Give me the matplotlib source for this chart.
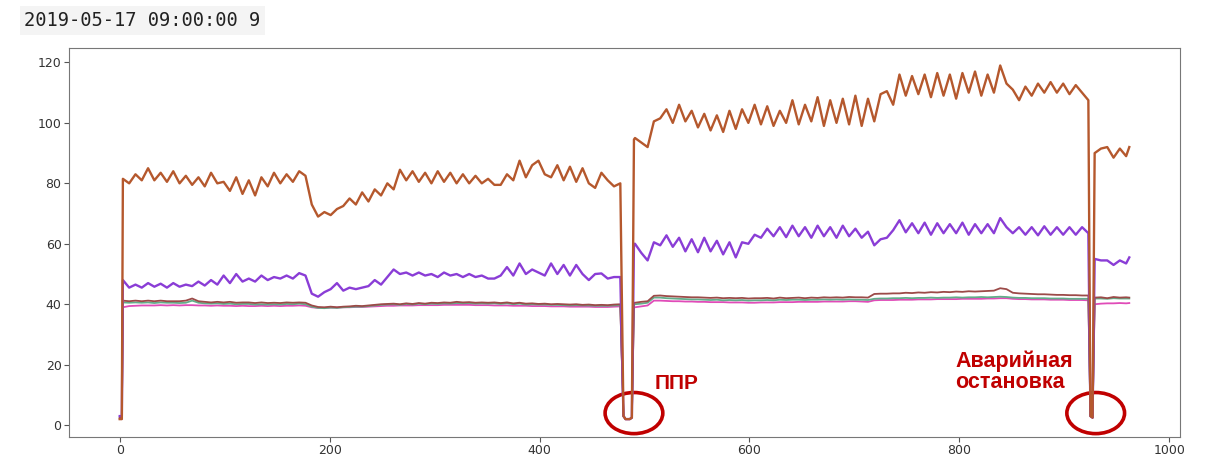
import numpy as np
import matplotlib
matplotlib.use('Agg')
import matplotlib.pyplot as plt
from matplotlib.patches import Ellipse

# sample index: normal run, first stop (ППР), run, emergency stop, restart
t = np.concatenate([[0, 2], np.arange(3, 478, 6), np.arange(480, 491, 2),
                    np.arange(491, 924, 6), [925, 927], np.arange(929, 960, 6), [962]])

top_line = [2, 2,
            81.5, 80, 83, 81, 85, 81, 83.5, 80.5, 84, 80,
            82.5, 79.5, 82, 79, 83.5, 80, 80.5, 77.5, 82, 76.5,
            81, 76, 82, 79, 83.5, 80, 83, 80.5, 84, 82.5,
            73, 69, 70.5, 69.5, 71.5, 72.5, 75, 73, 77, 74,
            78, 76, 80, 78, 84.5, 81, 84, 80.5, 83.5, 80,
            84, 80.5, 83.5, 80, 83, 80, 82.5, 80, 81.5, 79.5,
            79.5, 83, 81, 87.5, 82, 86, 87.5, 83, 82, 86,
            81, 85.5, 80.5, 85, 80, 78.5, 83.5, 81, 79, 80,
            3, 2, 2, 2, 2.5, 94.5,
            95, 93.5, 92, 100.5, 101.5, 104.5, 100, 106, 100.5, 104,
            98.5, 103, 97.5, 102.5, 97, 104, 98, 104.5, 100, 106,
            99.5, 105.5, 99, 104, 100, 107.5, 99.5, 106, 100.5, 108.5,
            99, 107.5, 100, 108, 99.5, 109, 99, 108, 100.5, 109.5,
            110.5, 106, 116, 109, 115.5, 109.5, 116, 108.5, 116.5, 109,
            116, 108, 116.5, 110, 117, 109, 116, 110, 119, 113,
            111, 107.5, 112, 109, 113, 110, 113.5, 110, 113, 109.5,
            112.5, 110, 107.5,
            3, 2.5,
            90, 91.5, 92, 88.5, 91.5, 89, 92]

purple_line = [3, 3,
               48, 45.5, 46.5, 45.5, 47, 45.8, 46.8, 45.5, 47, 45.8,
               46.5, 46, 47.5, 46.2, 48, 46.5, 49.5, 47, 50, 47.5,
               48.5, 47.5, 49.5, 48, 49, 48.5, 49.5, 48.5, 50.3, 49.5,
               43.5, 42.5, 44, 45, 47, 44.5, 45.5, 45, 45.5, 46,
               48, 46.5, 49, 51.5, 50, 50.5, 49.5, 50.5, 49.5, 50,
               49, 50.5, 49.5, 50, 49, 50, 49, 49.5, 48.5, 48.5,
               49.5, 52.3, 49.5, 53.5, 50, 51.5, 50.5, 49.5, 53.5, 50,
               53, 49.5, 53, 50, 48, 50, 50.2, 48.5, 49, 49,
               3, 2, 2, 2, 2.5, 60,
               60, 57, 54.5, 60.5, 59.5, 62.8, 59, 62, 57.5, 61.5,
               57.2, 62, 57.5, 61, 56.5, 60.5, 55.5, 60.5, 60, 63,
               62, 65, 62.5, 65.5, 62.2, 66, 62.5, 65.5, 62, 66,
               62.5, 65.5, 62, 66, 62.5, 65, 62, 64, 59.5, 61.5,
               62, 64.5, 67.8, 63.8, 66.8, 63.5, 67, 63, 66.8, 63.5,
               66.5, 63.5, 67, 63, 66.5, 63.5, 66.5, 63.5, 68.5, 65.5,
               63.5, 65.5, 63, 65.5, 62.8, 65.8, 63, 65.5, 63, 65.5,
               63, 65.5, 63.5,
               3, 2.5,
               55, 54.5, 54.5, 53, 54.5, 53.5, 55.5]

brown_line = [2.5, 2.5,
              41.2, 41, 41.2, 41, 41.2, 41, 41.2, 41, 41, 41,
              41.2, 41.9, 41, 40.8, 40.6, 40.8, 40.6, 40.8, 40.5, 40.6,
              40.6, 40.4, 40.6, 40.4, 40.5, 40.4, 40.6, 40.5, 40.6, 40.5,
              39.6, 39.1, 39, 39.2, 39, 39.2, 39.3, 39.5, 39.4, 39.6,
              39.8, 40, 40.1, 40.2, 40, 40.3, 40.1, 40.4, 40.2, 40.5,
              40.4, 40.6, 40.5, 40.8, 40.6, 40.7, 40.5, 40.6, 40.5, 40.6,
              40.4, 40.6, 40.3, 40.5, 40.2, 40.3, 40.1, 40.2, 40, 40.1,
              40, 39.9, 40, 39.8, 39.9, 39.7, 39.8, 39.7, 39.9, 40,
              3, 2, 2, 2, 2.5, 40.5,
              40.5, 40.8, 41, 42.8, 42.9, 42.7, 42.6, 42.5, 42.4, 42.3,
              42.3, 42.2, 42.1, 42.2, 42, 42.1, 42, 42.1, 41.9, 42,
              42, 42.1, 41.9, 42.2, 42, 42.1, 42.2, 42, 42.2, 42.1,
              42.3, 42.2, 42.3, 42.2, 42.4, 42.3, 42.3, 42.2, 43.4, 43.5,
              43.5, 43.6, 43.6, 43.8, 43.7, 43.9, 43.8, 44, 43.9, 44.1,
              44, 44.2, 44.1, 44.3, 44.2, 44.3, 44.4, 44.5, 45.3, 45,
              43.8, 43.6, 43.5, 43.4, 43.3, 43.3, 43.2, 43.1, 43.1, 43,
              43, 42.9, 42.9,
              3, 2.5,
              42.2, 42.3, 42, 42.4, 42.2, 42.3, 42.2]

green_line = [2.5, 2.5,
              40.6, 40.5, 40.6, 40.5, 40.6, 40.4, 40.6, 40.5, 40.5, 40.4,
              40.5, 41.2, 40.5, 40.3, 40.2, 40.3, 40.1, 40.2, 40, 40.1,
              40.1, 39.9, 40, 39.9, 40, 39.9, 40.1, 40, 40.2, 40,
              39.2, 38.8, 38.7, 38.9, 38.8, 39, 39.1, 39.2, 39.2, 39.4,
              39.6, 39.8, 39.9, 40, 39.8, 40.1, 39.9, 40.2, 40, 40.2,
              40.1, 40.3, 40.2, 40.4, 40.3, 40.4, 40.2, 40.3, 40.2, 40.3,
              40.1, 40.3, 40, 40.2, 39.9, 40, 39.9, 39.9, 39.8, 39.8,
              39.7, 39.6, 39.7, 39.6, 39.6, 39.5, 39.5, 39.5, 39.6, 39.7,
              3, 2, 2, 2, 2.5, 40,
              40, 40.2, 40.5, 42.2, 42.2, 42, 41.9, 41.8, 41.7, 41.6,
              41.6, 41.5, 41.4, 41.5, 41.3, 41.4, 41.3, 41.4, 41.2, 41.3,
              41.3, 41.4, 41.3, 41.5, 41.4, 41.5, 41.5, 41.4, 41.5, 41.5,
              41.6, 41.5, 41.6, 41.5, 41.6, 41.5, 41.5, 41.4, 41.8, 41.9,
              41.9, 42, 42, 42.1, 42, 42.1, 42.1, 42.2, 42.1, 42.2,
              42.2, 42.3, 42.2, 42.3, 42.3, 42.4, 42.3, 42.4, 42.5, 42.4,
              42.2, 42.1, 42.1, 42, 42, 42, 41.9, 41.9, 41.9, 41.8,
              41.8, 41.8, 41.8,
              3, 2.5,
              41.9, 41.9, 41.8, 42, 41.9, 41.9, 41.9]

pink_line = [2, 2,
             39, 39.4, 39.5, 39.6, 39.6, 39.6, 39.7, 39.6, 39.7, 39.6,
             39.7, 39.7, 39.6, 39.6, 39.5, 39.6, 39.5, 39.5, 39.4, 39.5,
             39.4, 39.4, 39.5, 39.4, 39.5, 39.4, 39.5, 39.5, 39.6, 39.5,
             39, 38.8, 38.8, 38.9, 38.9, 39, 39, 39.1, 39.1, 39.2,
             39.3, 39.4, 39.5, 39.5, 39.6, 39.6, 39.6, 39.7, 39.7, 39.7,
             39.7, 39.8, 39.8, 39.8, 39.8, 39.8, 39.7, 39.7, 39.7, 39.6,
             39.6, 39.6, 39.5, 39.5, 39.5, 39.4, 39.4, 39.4, 39.3, 39.3,
             39.3, 39.2, 39.2, 39.2, 39.2, 39.1, 39.1, 39.1, 39.2, 39.3,
             3, 2, 2, 2, 2.5, 39,
             39, 39.3, 39.6, 41.2, 41.2, 41.1, 41, 41, 40.9, 40.9,
             40.8, 40.8, 40.7, 40.7, 40.7, 40.6, 40.6, 40.6, 40.5, 40.5,
             40.6, 40.6, 40.6, 40.7, 40.7, 40.7, 40.8, 40.8, 40.8, 40.8,
             40.9, 40.9, 40.9, 40.9, 41, 41, 40.9, 40.8, 41.3, 41.4,
             41.4, 41.4, 41.5, 41.5, 41.5, 41.6, 41.6, 41.6, 41.7, 41.7,
             41.7, 41.7, 41.8, 41.8, 41.8, 41.8, 41.9, 41.9, 42, 42,
             41.8, 41.7, 41.7, 41.6, 41.6, 41.6, 41.5, 41.5, 41.5, 41.4,
             41.4, 41.4, 41.3,
             3, 2.5,
             40, 40.2, 40.3, 40.3, 40.4, 40.3, 40.4]

# stop events: centre index of each circle
stop_ppr = 490
stop_avar = 930

fig = plt.figure(figsize=(12.15, 4.55), dpi=100)
ax = fig.add_axes([0.057, 0.040, 0.914, 0.855])

ax.plot(t, pink_line, color='#e04bb8', lw=1.3)
ax.plot(t, green_line, color='#62ad8a', lw=1.3)
ax.plot(t, brown_line, color='#9c4a48', lw=1.3)
ax.plot(t, purple_line, color='#8a3dd6', lw=1.7)
ax.plot(t, top_line, color='#b5582d', lw=1.7)

ax.set_xticks([0, 200, 400, 600, 800, 1000])
ax.set_yticks([0, 20, 40, 60, 80, 100, 120])
ax.tick_params(colors='#555555', labelsize=9, labelcolor='#333333', length=3.5, pad=2)
for s in ax.spines.values():
    s.set_color('#777777')

for x0 in (stop_ppr, stop_avar):
    ax.add_patch(Ellipse((x0, 4), 55, 13.6, fill=False, ec='#c00000', lw=2.6, clip_on=False))

ax.text(510, 12, 'ППР', color='#c00000', fontsize=15, fontweight='bold',
        family='Liberation Sans', ha='left', va='baseline')
ax.text(796, 24.8, 'Аварийная\nостановка', color='#c00000', fontsize=15.5, fontweight='bold',
        family='Liberation Sans', ha='left', va='top', linespacing=1.05)

fig.text(0.02, 0.955, '2019-05-17 09:00:00 9', family='DejaVu Sans Mono', fontsize=13.5,
         color='#222222', va='center', ha='left',
         bbox=dict(boxstyle='square,pad=0.25', fc='#f4f4f4', ec='none'))

fig.savefig('out.png', dpi=100)
